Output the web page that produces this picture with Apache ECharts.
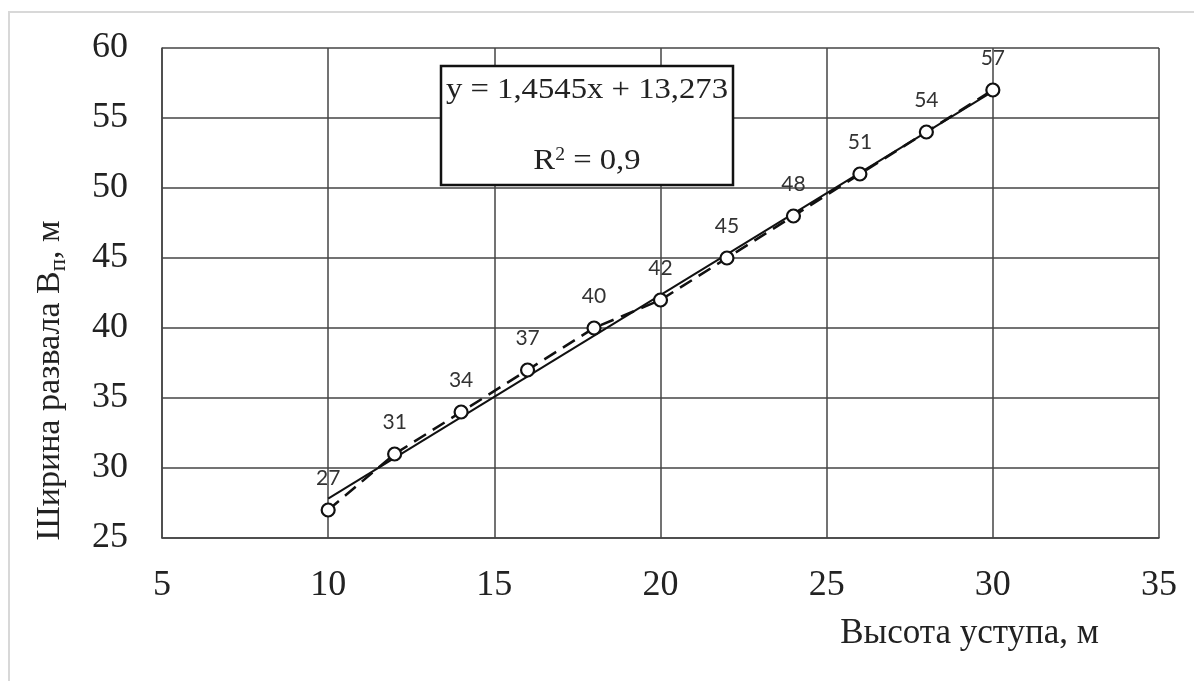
<!DOCTYPE html>
<html>
<head>
<meta charset="utf-8">
<script src="https://cdn.jsdelivr.net/npm/echarts@6/dist/echarts.min.js"></script>
<style>
  html, body { margin: 0; padding: 0; background: #fff; }
  #chart { width: 1194px; height: 681px; }
</style>
</head>
<body>
<div id="chart"></div>
<script>
// Bench height (m) and muck pile width (m)
const benchHeight = [10, 12, 14, 16, 18, 20, 22, 24, 26, 28, 30];
const pileWidth   = [27, 31, 34, 37, 40, 42, 45, 48, 51, 54, 57];

// Linear trend coefficients shown in the equation box
const trendSlope = 1.4545;
const trendIntercept = 13.273;
const trendR2 = '0,9';

const xTicks = [5, 10, 15, 20, 25, 30, 35];
const yTicks = [25, 30, 35, 40, 45, 50, 55, 60];

const serif = '"Liberation Serif", "DejaVu Serif", serif';
const sans = 'Lato, "Open Sans", sans-serif';

const xMin = benchHeight[0], xMax = benchHeight[benchHeight.length - 1];
const trendData = [
  [xMin, trendSlope * xMin + trendIntercept],
  [xMax, trendSlope * xMax + trendIntercept]
];

const chart = echarts.init(document.getElementById('chart'));
chart.setOption({
  animation: false,
  backgroundColor: '#fff',
  grid: { left: 162, right: 35, top: 48, bottom: 143 },
  xAxis: {
    type: 'value',
    min: xTicks[0], max: xTicks[xTicks.length - 1], interval: 5,
    name: 'Высота уступа, м',
    nameLocation: 'end',
    nameGap: 0,
    nameTextStyle: {
      fontFamily: serif, fontSize: 35, color: '#222',
      align: 'right', verticalAlign: 'top', padding: [78, 60, 0, 0]
    },
    axisLine: { lineStyle: { color: '#444', width: 1.5 } },
    axisTick: { show: false },
    axisLabel: { fontFamily: serif, fontSize: 36, color: '#222', margin: 30 },
    splitLine: { show: true, lineStyle: { color: '#444', width: 1.5 } }
  },
  yAxis: {
    type: 'value',
    min: yTicks[0], max: yTicks[yTicks.length - 1], interval: 5,
    name: 'Ширина развала В{sub|п}, м',
    nameLocation: 'middle',
    nameRotate: 90,
    nameGap: 92,
    nameTextStyle: {
      fontFamily: serif, fontSize: 34, color: '#222',
      padding: [0, 175, 0, 0],
      rich: { sub: { fontFamily: serif, fontSize: 23, color: '#222', verticalAlign: 'bottom', padding: [16, 0, 0, 0] } }
    },
    axisLine: { show: true, lineStyle: { color: '#444', width: 1.5 } },
    axisTick: { show: false },
    axisLabel: { fontFamily: serif, fontSize: 36, color: '#222', margin: 34 },
    splitLine: { show: true, lineStyle: { color: '#444', width: 1.5 } }
  },
  series: [
    {
      type: 'line',
      data: trendData,
      symbol: 'none',
      lineStyle: { color: '#111', width: 2 },
      z: 3,
      silent: true
    },
    {
      type: 'line',
      data: benchHeight.map((x, i) => [x, pileWidth[i]]),
      symbol: 'circle',
      symbolSize: 13,
      itemStyle: { color: '#fff', borderColor: '#111', borderWidth: 2.2 },
      lineStyle: { color: '#111', width: 2.5, type: [14, 8] },
      label: {
        show: true, position: 'top', distance: 14,
        fontFamily: sans, fontSize: 21, color: '#333',
        formatter: p => String(p.value[1])
      },
      z: 4
    }
  ],
  graphic: [
    {
      type: 'rect',
      shape: { x: 9, y: 12, width: 1220, height: 700 },
      style: { fill: null, stroke: '#d8d8d8', lineWidth: 2 },
      silent: true, z: 0
    },
    {
      type: 'rect',
      shape: { x: 441, y: 66, width: 292, height: 119 },
      style: { fill: '#fff', stroke: '#111', lineWidth: 2.5 },
      z: 10
    },
    {
      type: 'text',
      x: 587, y: 90, scaleX: 1.09,
      style: {
        text: 'y = 1,4545x + 13,273',
        fontFamily: serif, fontSize: 30, fill: '#222',
        align: 'center', verticalAlign: 'middle'
      },
      z: 11
    },
    {
      type: 'text',
      x: 587, y: 161, scaleX: 1.09,
      style: {
        text: 'R{sup|2} = ' + trendR2,
        fontFamily: serif, fontSize: 30, fill: '#222',
        align: 'center', verticalAlign: 'middle',
        rich: { sup: { fontFamily: serif, fontSize: 18, fill: '#222', verticalAlign: 'top', padding: [0, 0, 12, 0] } }
      },
      z: 11
    }
  ]
});
</script>
</body>
</html>
